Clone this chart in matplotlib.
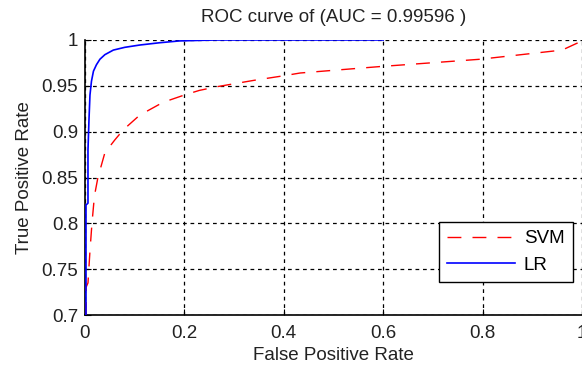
import matplotlib
matplotlib.use("Agg")
import matplotlib.pyplot as plt

# LR ROC curve points
lr_fpr = [0.0, 0.002, 0.002, 0.006, 0.006, 0.008, 0.010, 0.013, 0.017, 0.023, 0.030, 0.040,
          0.057, 0.080, 0.110, 0.150, 0.190, 0.260, 0.600]
lr_tpr = [0.70, 0.70, 0.820, 0.822, 0.880, 0.913, 0.940, 0.955, 0.966, 0.973, 0.979, 0.984,
          0.989, 0.992, 0.9945, 0.997, 0.999, 1.000, 1.000]

# SVM ROC curve points
svm_fpr = [0.0, 0.002, 0.002, 0.006, 0.010, 0.014, 0.019, 0.026, 0.040, 0.060, 0.077, 0.110,
           0.157, 0.200, 0.230, 0.265, 0.340, 0.400, 0.433, 0.593, 0.795, 0.960, 0.996, 1.0]
svm_tpr = [0.70, 0.70, 0.730, 0.735, 0.770, 0.800, 0.830, 0.850, 0.877, 0.891, 0.902, 0.918,
           0.932, 0.940, 0.945, 0.949, 0.956, 0.961, 0.964, 0.971, 0.979, 0.989, 0.998, 1.0]

title = "ROC curve of (AUC = 0.99596 )"
xticks = [0, 0.2, 0.4, 0.6, 0.8, 1]
xticklabels = ["0", "0.2", "0.4", "0.6", "0.8", "1"]
yticks = [0.7, 0.75, 0.8, 0.85, 0.9, 0.95, 1]
yticklabels = ["0.7", "0.75", "0.8", "0.85", "0.9", "0.95", "1"]

plt.rcParams['font.family'] = ['Liberation Sans', 'DejaVu Sans']
fs = 13.5

fig = plt.figure(figsize=(5.82, 3.68), dpi=100)
ax = fig.add_axes([85/582, 53/368, 497/582, 275/368])

ax.plot(svm_fpr, svm_tpr, color='red', linewidth=1.0, dashes=(10, 8), label='SVM', zorder=3)
ax.plot(lr_fpr, lr_tpr, color='blue', linewidth=1.2, label='LR', zorder=3)

ax.set_xlim(0, 1)
ax.set_ylim(0.7, 1)
ax.set_xticks(xticks)
ax.set_xticklabels(xticklabels, fontsize=fs)
ax.set_yticks(yticks)
ax.set_yticklabels(yticklabels, fontsize=fs)
ax.tick_params(direction='in', length=4, color='black', labelcolor='#222222')
ax.tick_params(axis='x', pad=7)
ax.tick_params(axis='y', pad=5)
ax.grid(True, color='black', linestyle=(0, (3, 3)), linewidth=0.9)
ax.set_axisbelow(True)
for s in ['top', 'right']:
    ax.spines[s].set_visible(False)
for s in ['left', 'bottom']:
    ax.spines[s].set_linewidth(1.2)

ax.set_xlabel("False Positive Rate", fontsize=fs, color='#222222', labelpad=4)
ax.set_ylabel("True Positive Rate", fontsize=fs, color='#222222', labelpad=6)
ax.set_title(title, fontsize=fs, color='#222222', pad=13)

leg = ax.legend(loc='lower right', bbox_to_anchor=(0.982, 0.12), borderaxespad=0,
                fontsize=fs, fancybox=False, framealpha=1, edgecolor='black',
                handlelength=3.6, borderpad=0.45, labelspacing=0.5, handletextpad=0.5)
leg.get_frame().set_linewidth(1.0)

fig.savefig("out.png", dpi=100)
